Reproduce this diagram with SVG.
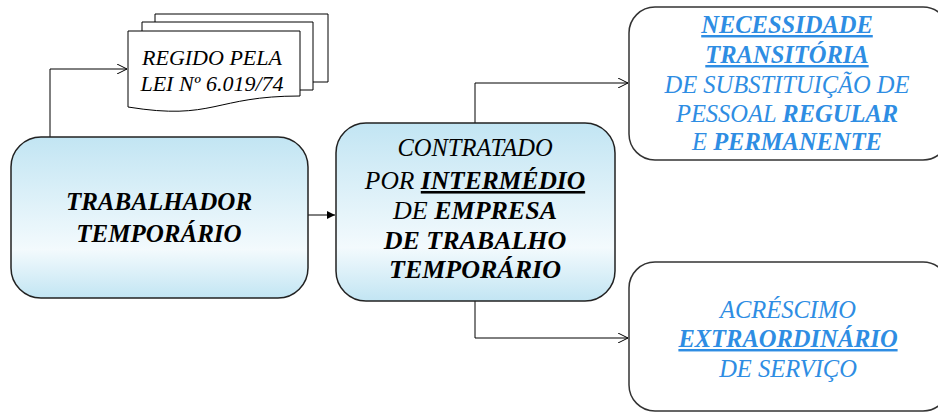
<svg xmlns="http://www.w3.org/2000/svg" width="938" height="413" viewBox="0 0 938 413">
<defs>
<linearGradient id="g" x1="0" y1="0" x2="0" y2="1">
<stop offset="0" stop-color="#c2e5f3"/>
<stop offset="0.7" stop-color="#f3fafd"/>
<stop offset="1" stop-color="#c2e5f3"/>
</linearGradient>
<marker id="open" viewBox="0 0 10 10" refX="10" refY="5" markerWidth="10" markerHeight="10" markerUnits="userSpaceOnUse" orient="auto">
<path d="M0,0 L10,5 L0,10" fill="none" stroke="#000" stroke-width="1"/>
</marker>
<marker id="fill" viewBox="0 0 10 10" refX="10" refY="5" markerWidth="8" markerHeight="8" markerUnits="userSpaceOnUse" orient="auto">
<path d="M0,0 L10,5 L0,10 Z" fill="#000"/>
</marker>
</defs>
<style>
.box{fill:url(#g);stroke:#222;stroke-width:1.5}
.wbox{fill:#fff;stroke:#333;stroke-width:1.5}
.doc{fill:#fff;stroke:#000;stroke-width:1}
.t{font-style:italic;text-anchor:middle}
.k{fill:#000}
.b{fill:#2e8de3}
.bd{font-weight:bold}
.u{text-decoration:underline}
.c{fill:none;stroke:#000;stroke-width:1}
</style>
<g id="connectors">
<path class="c" d="M50,137 V69 H127" marker-end="url(#open)"/>
<path class="c" d="M308,215 H335" marker-end="url(#fill)"/>
<path class="c" d="M475,123 V83 H628" marker-end="url(#open)"/>
<path class="c" d="M475,301 V338 H628" marker-end="url(#open)"/>
</g>
<g font-family="Liberation Serif, Times New Roman, serif">
<g id="doc">
<path class="doc" d="M155,22 V14 H328 V82 H313"/>
<path class="doc" d="M142,31 V22 H313 V90 H300"/>
<path class="doc" d="M128,31 H300 V96 C214,96 214,121 128,107 Z"/>
<text class="t k" font-size="22" x="212" y="65">REGIDO PELA</text>
<text class="t k" font-size="22" x="212" y="91">LEI Nº 6.019/74</text>
</g>
<g id="trabalhador">
<rect class="box" x="11" y="137" width="297" height="161" rx="30"/>
<text class="t k bd" font-size="25" x="159" y="210">TRABALHADOR</text>
<text class="t k bd" font-size="25" x="159" y="242">TEMPORÁRIO</text>
</g>
<g id="contratado">
<rect class="box" x="336" y="123" width="279" height="178" rx="30"/>
<text class="t k" font-size="24.5" x="475" y="156">CONTRATADO</text>
<text class="t k" font-size="25.5" x="475" y="189">POR <tspan class="bd u">INTERMÉDIO</tspan></text>
<text class="t k" font-size="26" x="475" y="219">DE <tspan class="bd">EMPRESA</tspan></text>
<text class="t k bd" font-size="26" x="475" y="249">DE TRABALHO</text>
<text class="t k bd" font-size="26" x="475" y="278">TEMPORÁRIO</text>
</g>
<g id="necessidade">
<rect class="wbox" x="629" y="7" width="320" height="153" rx="26"/>
<text class="t b bd u" font-size="24.5" x="787" y="33">NECESSIDADE</text>
<text class="t b bd u" font-size="24.5" x="787" y="63">TRANSITÓRIA</text>
<text class="t b" font-size="24.5" x="787" y="93">DE SUBSTITUIÇÃO DE</text>
<text class="t b" font-size="24.5" x="787" y="122">PESSOAL <tspan class="bd">REGULAR</tspan></text>
<text class="t b" font-size="24.5" x="787" y="150">E <tspan class="bd">PERMANENTE</tspan></text>
</g>
<g id="acrescimo">
<rect class="wbox" x="629" y="262" width="320" height="149" rx="26"/>
<text class="t b" font-size="24.5" x="788" y="318">ACRÉSCIMO</text>
<text class="t b bd u" font-size="24.5" x="788" y="347">EXTRAORDINÁRIO</text>
<text class="t b" font-size="24.5" x="788" y="377">DE SERVIÇO</text>
</g>
</g>
</svg>
